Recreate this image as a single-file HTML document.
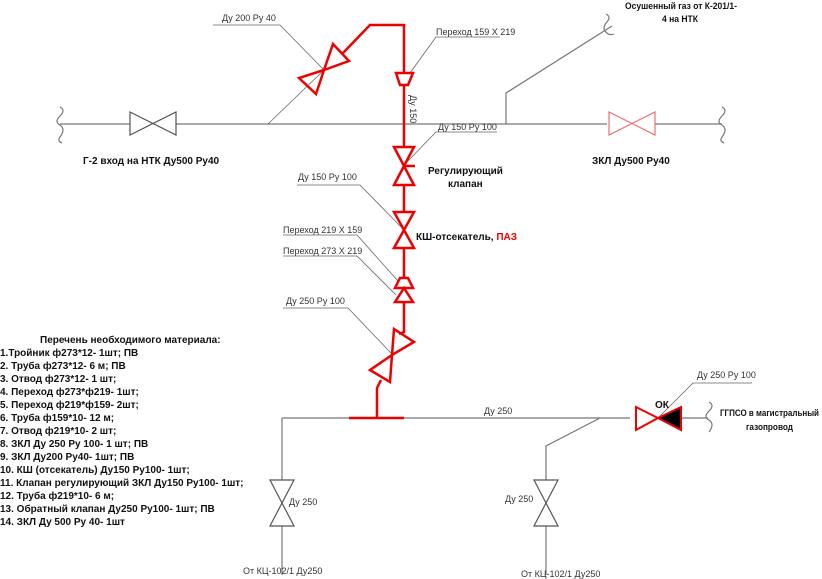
<!DOCTYPE html>
<html><head><meta charset="utf-8"><style>
body{margin:0;background:#fff}
svg{display:block}
text{font-family:"Liberation Sans",sans-serif;font-size:9px;fill:#333}
.b{font-weight:bold;font-size:10px;fill:#111}
</style></head><body>
<svg width="822" height="579" viewBox="0 0 822 579" xmlns="http://www.w3.org/2000/svg">
<g stroke="#777" stroke-width="1.2" fill="none">
<line x1="60" y1="124" x2="130" y2="124"/>
<line x1="176" y1="124" x2="607" y2="124"/>
<line x1="655" y1="124" x2="722" y2="124"/>
<path d="M60 107 q6 3 0 9 q-6 6 0 9 q6 4 0 12 q-3 4 2 6"/>
<path d="M722 107 q6 3 0 9 q-6 6 0 9 q6 4 0 12 q-3 4 2 6"/>
<path d="M130 112 L176 135 L176 112 L130 135 Z" stroke="#555"/>
<path d="M506 124 L506 93 L612 26"/>
<path d="M606 14 q6 3 0 9 q-4 6 0 9 q3 4 8 2"/>
<line x1="282" y1="418" x2="630" y2="418"/>
<line x1="282" y1="418" x2="282" y2="480"/>
<line x1="282" y1="526" x2="282" y2="575"/>
<path d="M270 480 L294 526 L270 526 L294 480 Z" stroke="#555"/>
<path d="M600 418 L546 446 L546 480"/>
<line x1="546" y1="526" x2="546" y2="575"/>
<path d="M534 480 L558 526 L534 526 L558 480 Z" stroke="#555"/>
<line x1="681" y1="418" x2="708" y2="418"/>
<path d="M709 402 q6 3 0 9 q-6 6 0 9 q6 4 0 12"/>
</g>
<g stroke="#666" stroke-width="0.8" fill="none">
<path d="M213 25 L280 25 L324 70 M268 124 L324 70"/>
<path d="M410 73 L436 37 L500 37"/>
<path d="M404 165 L436 132 L497 132"/>
<path d="M297 185 L360 185 L404 230"/>
<path d="M283 235 L357 235 L398 281"/>
<path d="M283 256 L357 256 L396 295"/>
<path d="M283 308 L348 308 L391 353"/>
<path d="M658 418 L693 383 L752 383"/>
</g>
<path d="M609 112 L655 135 L655 112 L609 135 Z" fill="none" stroke="#f07070" stroke-width="1.2"/>
<g stroke="#e00" stroke-width="2.5" fill="none" stroke-linejoin="miter">
<path d="M404 73 L404 25 L370 25 L343 53"/>
<path d="M333 44 L349 61 L324 70 Z M299 78 L316 94 L324 70 Z"/>
<path d="M396 73 L413 73 L408 85 L400 85 Z"/>
<line x1="404" y1="85" x2="404" y2="147"/>
<path d="M394 147 L414 147 L394 185 L414 185 Z"/>
<line x1="404" y1="166" x2="415" y2="166"/>
<line x1="404" y1="185" x2="404" y2="212"/>
<path d="M394 212 L414 212 L394 248 L414 248 Z"/>
<line x1="404" y1="248" x2="404" y2="278"/>
<path d="M400 278 L408 278 L413 288 L395 288 Z M404 288 L413 302 L395 302 Z"/>
<path d="M404 302 L404 332 L399 334"/>
<path d="M394 329 L414 342 L392 355 Z M370 370 L390 382 L392 355 Z"/>
<path d="M381 380 L377 388 L377 418"/>
<line x1="349" y1="418" x2="404" y2="418"/>
</g>
<path d="M636 407 L658 418 L636 430 Z" fill="#fff" stroke="#e00" stroke-width="2"/>
<path d="M681 407 L658 418 L681 430 Z" fill="#000" stroke="#e00" stroke-width="2"/>
<text x="222" y="21">Ду 200 Ру 40</text>
<text x="436" y="35">Переход 159 Х 219</text>
<text x="410" y="95" transform="rotate(90 410 95)">Ду 150</text>
<text x="438" y="130">Ду 150 Ру 100</text>
<text x="298" y="180">Ду 150 Ру 100</text>
<text x="283" y="233">Переход 219 Х 159</text>
<text x="283" y="254">Переход 273 Х 219</text>
<text x="286" y="304">Ду 250 Ру 100</text>
<text x="484" y="414">Ду 250</text>
<text x="697" y="378">Ду 250 Ру 100</text>
<text x="289" y="505">Ду 250</text>
<text x="505" y="502">Ду 250</text>
<text x="243" y="574">От КЦ-102/1 Ду250</text>
<text x="521" y="577">От КЦ-102/1 Ду250</text>
<text class="b" x="625" y="9" style="font-size:9px" textLength="112" lengthAdjust="spacingAndGlyphs">Осушенный газ от К-201/1-</text>
<text class="b" x="662" y="22" style="font-size:9px" textLength="36" lengthAdjust="spacingAndGlyphs">4 на НТК</text>
<text class="b" x="83" y="164">Г-2 вход на НТК Ду500 Ру40</text>
<text class="b" x="592" y="164">ЗКЛ Ду500 Ру40</text>
<text class="b" x="428" y="174">Регулирующий</text>
<text class="b" x="448" y="187">клапан</text>
<text class="b" x="416" y="240">КШ-отсекатель, <tspan fill="#e00">ПАЗ</tspan></text>
<text class="b" x="655" y="408">ОК</text>
<text class="b" x="720" y="416" style="font-size:9px" textLength="99" lengthAdjust="spacingAndGlyphs">ГГПСО в магистральный</text>
<text class="b" x="746" y="430" style="font-size:9px" textLength="47" lengthAdjust="spacingAndGlyphs">газопровод</text>
<text class="b" x="40" y="343">Перечень необходимого материала:</text>
<text class="b" x="0" y="356">1.Тройник ф273*12- 1шт; ПВ</text>
<text class="b" x="0" y="369">2. Труба ф273*12- 6 м; ПВ</text>
<text class="b" x="0" y="382">3. Отвод ф273*12- 1 шт;</text>
<text class="b" x="0" y="395">4. Переход ф273*ф219- 1шт;</text>
<text class="b" x="0" y="408">5. Переход ф219*ф159- 2шт;</text>
<text class="b" x="0" y="421">6. Труба ф159*10- 12 м;</text>
<text class="b" x="0" y="434">7. Отвод ф219*10- 2 шт;</text>
<text class="b" x="0" y="447">8. ЗКЛ Ду 250 Ру 100- 1 шт; ПВ</text>
<text class="b" x="0" y="460">9. ЗКЛ Ду200 Ру40- 1шт; ПВ</text>
<text class="b" x="0" y="473">10. КШ (отсекатель) Ду150 Ру100- 1шт;</text>
<text class="b" x="0" y="486">11. Клапан регулирующий ЗКЛ Ду150 Ру100- 1шт;</text>
<text class="b" x="0" y="499">12. Труба ф219*10- 6 м;</text>
<text class="b" x="0" y="512">13. Обратный клапан Ду250 Ру100- 1шт; ПВ</text>
<text class="b" x="0" y="525">14. ЗКЛ Ду 500 Ру 40- 1шт</text>
</svg>
</body></html>
